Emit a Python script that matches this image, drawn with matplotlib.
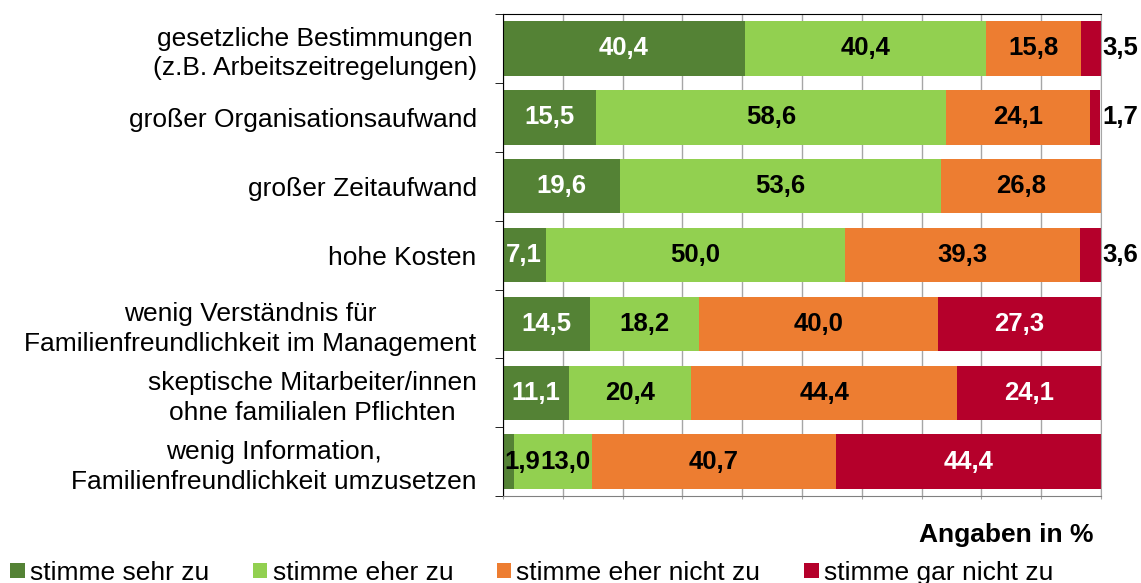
import numpy as np
import matplotlib.pyplot as plt
from matplotlib.patches import Patch

plt.rcParams['font.family'] = ['Liberation Sans', 'DejaVu Sans']

categories = [
    "gesetzliche Bestimmungen\n(z.B. Arbeitszeitregelungen)",
    "großer Organisationsaufwand",
    "großer Zeitaufwand",
    "hohe Kosten",
    "wenig Verständnis für\nFamilienfreundlichkeit im Management",
    "skeptische Mitarbeiter/innen\nohne familialen Pflichten",
    "wenig Information,\nFamilienfreundlichkeit umzusetzen",
]
series_names = ["stimme sehr zu", "stimme eher zu", "stimme eher nicht zu", "stimme gar nicht zu"]
sehr_zu = [40.4, 15.5, 19.6, 7.1, 14.5, 11.1, 1.9]
eher_zu = [40.4, 58.6, 53.6, 50.0, 18.2, 20.4, 13.0]
eher_nicht = [15.8, 24.1, 26.8, 39.3, 40.0, 44.4, 40.7]
gar_nicht = [3.5, 1.7, 0.0, 3.6, 27.3, 24.1, 44.4]

colors = ["#548235", "#92D050", "#ED7D31", "#B5002B"]
text_colors = ["white", "black", "black", "white"]

data = np.array([sehr_zu, eher_zu, eher_nicht, gar_nicht])
y = np.arange(len(categories))

FS = 19
VFS = 18.5

fig = plt.figure(figsize=(11.41, 5.83), dpi=100)
ax = fig.add_axes([0.4409, 0.149, 0.9650 - 0.4409, 0.976 - 0.149])

left = np.zeros(len(categories))
for i, (vals, col) in enumerate(zip(data, colors)):
    ax.barh(y, vals, left=left, height=0.79, color=col, zorder=2)
    for j, v in enumerate(vals):
        if v <= 0:
            continue
        label = f"{v:.1f}".replace(".", ",")
        x = left[j] + v / 2
        ha = "center"
        tcol = text_colors[i]
        if i == 3 and v < 5:
            # small red segments: value written outside the bar
            x, ha, tcol = 100.2, "left", "black"
        elif j == 6 and i == 0:
            x, tcol = 3.2, "black"
        elif j == 6 and i == 1:
            x = 10.5
        ax.text(x, y[j], label, ha=ha, va="center", fontsize=VFS,
                fontweight="bold", color=tcol, zorder=3)
    left += vals

ax.set_xlim(0, 100)
ax.set_ylim(len(categories) - 0.5, -0.5)
ax.set_xticks(np.arange(0, 101, 10))
ax.xaxis.grid(True, color="#a6a6a6", linewidth=1, zorder=0)
ax.set_axisbelow(True)
ax.tick_params(axis="x", labelbottom=False, length=2, color="#a6a6a6")

ax.set_yticks(y)
ax.set_yticklabels(categories, fontsize=FS, multialignment="center", linespacing=1.28)
ax.tick_params(axis="y", which="major", length=0, pad=19)
ax.set_yticks(np.arange(-0.5, len(categories), 1), minor=True)
ax.tick_params(axis="y", which="minor", length=6, direction="out", color="black")

ax.spines["left"].set_color("black")
ax.spines["top"].set_color("black")
ax.spines["right"].set_color("#a6a6a6")
ax.spines["bottom"].set_color("#808080")

fig.text(0.958, 0.083, "Angaben in %", ha="right", va="center",
         fontsize=FS, fontweight="bold")

handles = [Patch(facecolor=c, edgecolor="none") for c in colors]
fig.legend(handles, series_names, loc="lower left", bbox_to_anchor=(-0.005, -0.03),
           ncol=4, frameon=False, fontsize=FS, handlelength=0.55, handleheight=0.5,
           handletextpad=0.2, columnspacing=1.65, borderaxespad=0.2)

fig.savefig("out.png", dpi=100)
